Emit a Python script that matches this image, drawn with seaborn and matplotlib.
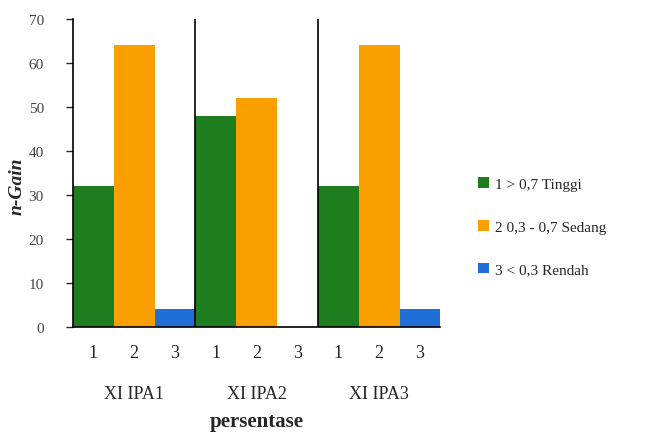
import pandas as pd
import matplotlib.pyplot as plt
import matplotlib.transforms as mtransforms
import seaborn as sns

# --- Data ---
groups = ['XI IPA1', 'XI IPA2', 'XI IPA3']
categories = ['1 > 0,7 Tinggi', '2 0,3 - 0,7 Sedang', '3 < 0,3 Rendah']
tinggi = [32, 48, 32]
sedang = [64, 52, 64]
rendah = [4, 0, 4]
bar_labels = ['1', '2', '3']
colors = ['#1e7d1e', '#f9a000', '#1f6fd6']

rows = []
for i, g in enumerate(groups):
    for cat, vals in zip(categories, [tinggi, sedang, rendah]):
        rows.append({'kelas': g, 'kategori': cat, 'nilai': vals[i]})
df = pd.DataFrame(rows)

sns.set_style('white')
plt.rcParams['font.family'] = ['Liberation Serif', 'DejaVu Serif']

fig = plt.figure(figsize=(6.49, 4.35), dpi=100)
ax = fig.add_axes([0.1125, 0.246, 0.566, 0.708])

sns.barplot(data=df, x='kelas', y='nilai', hue='kategori', order=groups,
            hue_order=categories, palette=colors, width=1.0, gap=0,
            saturation=1, edgecolor='none', ax=ax)

ax.set_ylim(0, 70)
ax.set_yticks(range(0, 71, 10))
ax.set_xlim(-0.5, len(groups) - 0.5)

# group separators
for b in range(1, len(groups)):
    ax.axvline(b - 0.5, color='black', lw=1.2)

# bar-level tick labels 1 2 3
centers, labels = [], []
for k, cont in enumerate(ax.containers):
    for p in cont.patches:
        centers.append(p.get_x() + p.get_width() / 2)
        labels.append(bar_labels[k])
ax.set_xticks(centers)
ax.set_xticklabels(labels, fontsize=13)
ax.tick_params(axis='x', length=0, pad=12)
ax.tick_params(axis='y', length=5, width=1, direction='out', left=True,
               labelsize=11, labelcolor='#444444', pad=16)

trans = mtransforms.blended_transform_factory(ax.transData, ax.transAxes)
for i, g in enumerate(groups):
    ax.text(i, -0.215, g, transform=trans, ha='center', va='center', fontsize=13)

ax.set_xlabel('persentase', fontsize=15, fontweight='bold')
ax.xaxis.set_label_coords(0.5, -0.272)
ax.set_ylabel('n-Gain', fontsize=14, fontweight='bold', style='italic')
ax.yaxis.set_label_coords(-0.13, 0.46)

for s in ['top', 'right']:
    ax.spines[s].set_visible(False)
for s in ['left', 'bottom']:
    ax.spines[s].set_color('black')
    ax.spines[s].set_linewidth(1.2)

ax.legend(loc='center left', bbox_to_anchor=(1.065, 0.325), frameon=False,
          fontsize=11, handlelength=0.7, handleheight=0.7, handletextpad=0.4,
          labelspacing=1.9, title=None)

fig.savefig('out.png', dpi=100)
